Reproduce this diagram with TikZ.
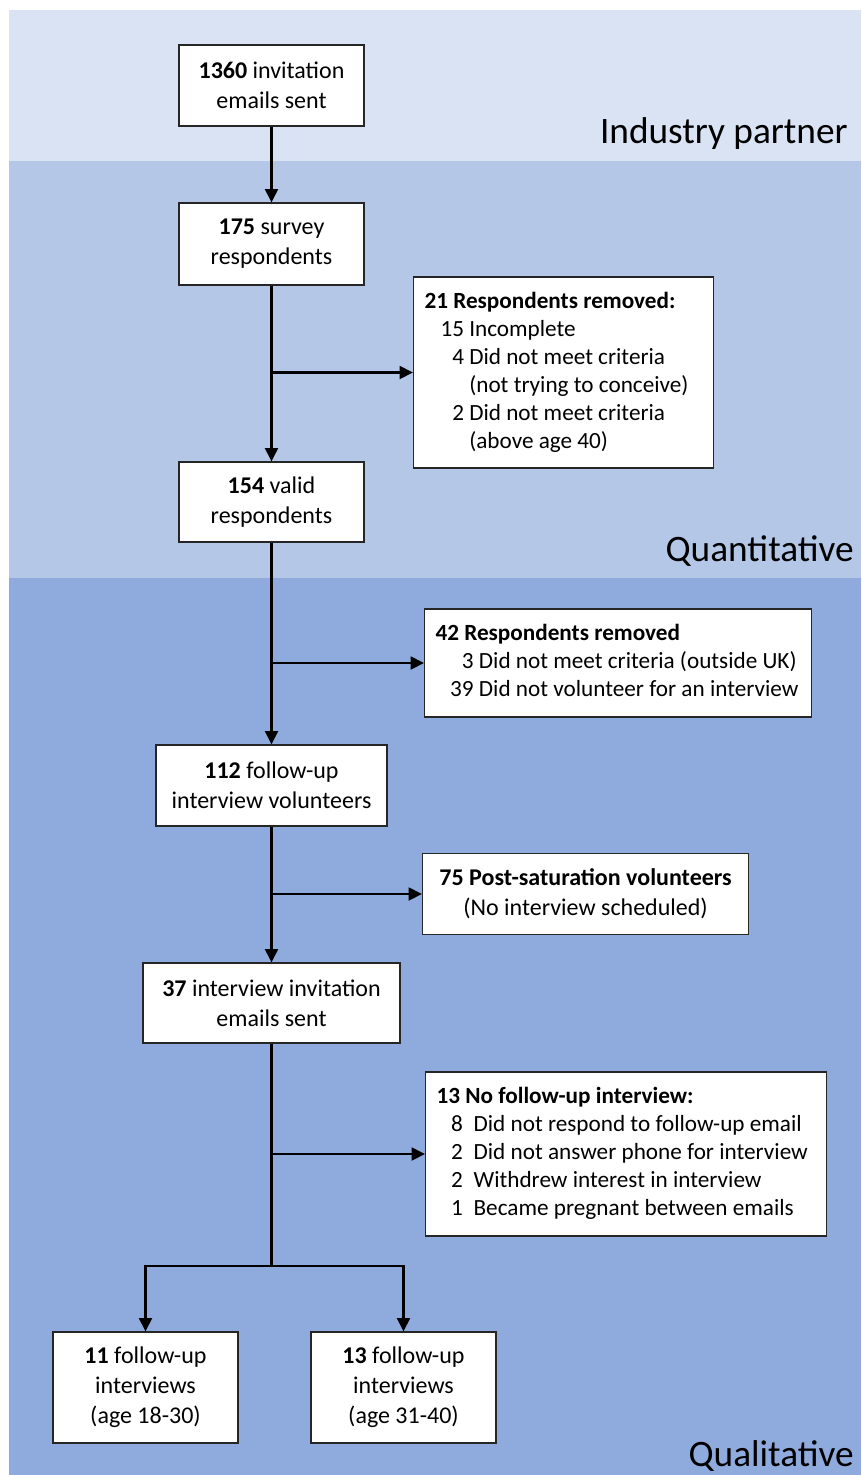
\documentclass[tikz,border=0pt]{standalone}
\usepackage{fontspec}
\setmainfont{Carlito}
\usetikzlibrary{arrows.meta}

\definecolor{bandtop}{HTML}{DAE3F3}
\definecolor{bandmid}{HTML}{B4C7E7}
\definecolor{bandlow}{HTML}{8FAADC}

\begin{document}
\begin{tikzpicture}[x=0.75pt, y=-0.75pt,
    >={Triangle[length=10pt, width=9.5pt]},
    flow/.style={draw=black!85, fill=white, line width=0.8pt, inner sep=0pt,
                 align=center, font=\fontsize{18}{22.5}\selectfont},
    removed/.style={draw=black!85, fill=white, line width=0.8pt, inner xsep=8.25pt,
                    inner ysep=0pt, anchor=west,
                    font=\fontsize{17.4}{21}\selectfont},
    band/.style={anchor=base east, inner sep=0pt, font=\fontsize{28}{30}\selectfont},
    link/.style={line width=2.1pt}]
    \useasboundingbox (0, 0) rectangle (861, 1475);

    % Bands
    \fill [bandtop] (9, 10) rectangle (861, 161);
    \fill [bandmid] (9, 161) rectangle (861, 578);
    \fill [bandlow] (9, 578) rectangle (861, 1475);
    \node [band] (lpartner) at (848, 143) {Industry partner};
    \node [band] (lquant) at (854, 561) {Quantitative};
    \node [band] (lqual) at (854, 1466) {Qualitative};

    % Main flow
    \node [flow, minimum width=138.75pt, minimum height=60.75pt]
          (b1) at (271.5, 85.5) {\textbf{1360} invitation\\emails sent};
    \node [flow, minimum width=138.75pt, minimum height=61.5pt]
          (b2) at (271.5, 244) {\textbf{175} survey\\respondents};
    \node [flow, minimum width=138.75pt, minimum height=60pt]
          (b3) at (271.5, 502) {\textbf{154} valid\\respondents};
    \node [flow, minimum width=173.25pt, minimum height=60.75pt]
          (b4) at (271.5, 785.5) {\textbf{112} follow-up\\interview volunteers};
    \node [flow, minimum width=192.75pt, minimum height=60pt]
          (b5) at (271.5, 1003) {\textbf{37} interview invitation\\emails sent};

    % Interviews
    \node [flow, minimum width=138.75pt, minimum height=83.25pt]
          (b6) at (145.5, 1387.5) {\textbf{11} follow-up\\interviews\\(age 18-30)};
    \node [flow, minimum width=138.75pt, minimum height=83.25pt]
          (b7) at (403.5, 1387.5) {\textbf{13} follow-up\\interviews\\(age 31-40)};

    % Removed
    \node [removed, minimum height=143.25pt]
          (r1) at (413, 372.5) {\makebox[208.5pt][l]{%
      \begin{tabular}{@{}r@{ }l@{}}
        \multicolumn{2}{@{}l@{}}{\textbf{21 Respondents removed:}}\\
        \hspace{12pt}15 & Incomplete\\
        4 & Did not meet criteria\\
          & (not trying to conceive)\\
        2 & Did not meet criteria\\
          & (above age 40)
      \end{tabular}}};
    \node [removed, minimum height=81pt]
          (r2) at (424, 663) {\makebox[273.75pt][l]{%
      \begin{tabular}{@{}r@{ }l@{}}
        \multicolumn{2}{@{}l@{}}{\textbf{42 Respondents removed}}\\
        3 & Did not meet criteria (outside UK)\\
        \hspace{11pt}39 & Did not volunteer for an interview
      \end{tabular}}};
    \node [flow, anchor=west, minimum width=244.5pt, minimum height=60.75pt]
          (r3) at (422, 894) {\textbf{75 Post-saturation volunteers}\\(No interview scheduled)};
    \node [removed, minimum height=123pt]
          (r4) at (425, 1154) {\makebox[284.25pt][l]{%
      \begin{tabular}{@{\hspace{11pt}}r@{\hspace{8pt}}l@{}}
        \multicolumn{2}{@{}l@{}}{\textbf{13 No follow-up interview:}}\\
        8 & Did not respond to follow-up email\\
        2 & Did not answer phone for interview\\
        2 & Withdrew interest in interview\\
        1 & Became pregnant between emails
      \end{tabular}}};

    % Junctions
    \coordinate (j1) at (b2 |- r1.west);
    \coordinate (j2) at (b3 |- r2.west);
    \coordinate (j3) at (b4 |- r3.west);
    \coordinate (j4) at (b5 |- r4.west);
    \coordinate (split) at (271.5, 1266);

    % Connections
    \draw [link, ->] (b1) -- (b2);
    \draw [link, ->] (b2) -- (b3);
    \draw [link, ->] (j1) -- (r1.west);
    \draw [link, ->] (b3) -- (b4);
    \draw [link, ->] (j2) -- (r2.west);
    \draw [link, ->] (b4) -- (b5);
    \draw [link, ->] (j3) -- (r3.west);
    \draw [link] (b5) -- (split);
    \draw [link, ->] (j4) -- (r4.west);
    \draw [link, ->] (split) -| (b6);
    \draw [link, ->] (split) -| (b7);

  \end{tikzpicture}
\end{document}
